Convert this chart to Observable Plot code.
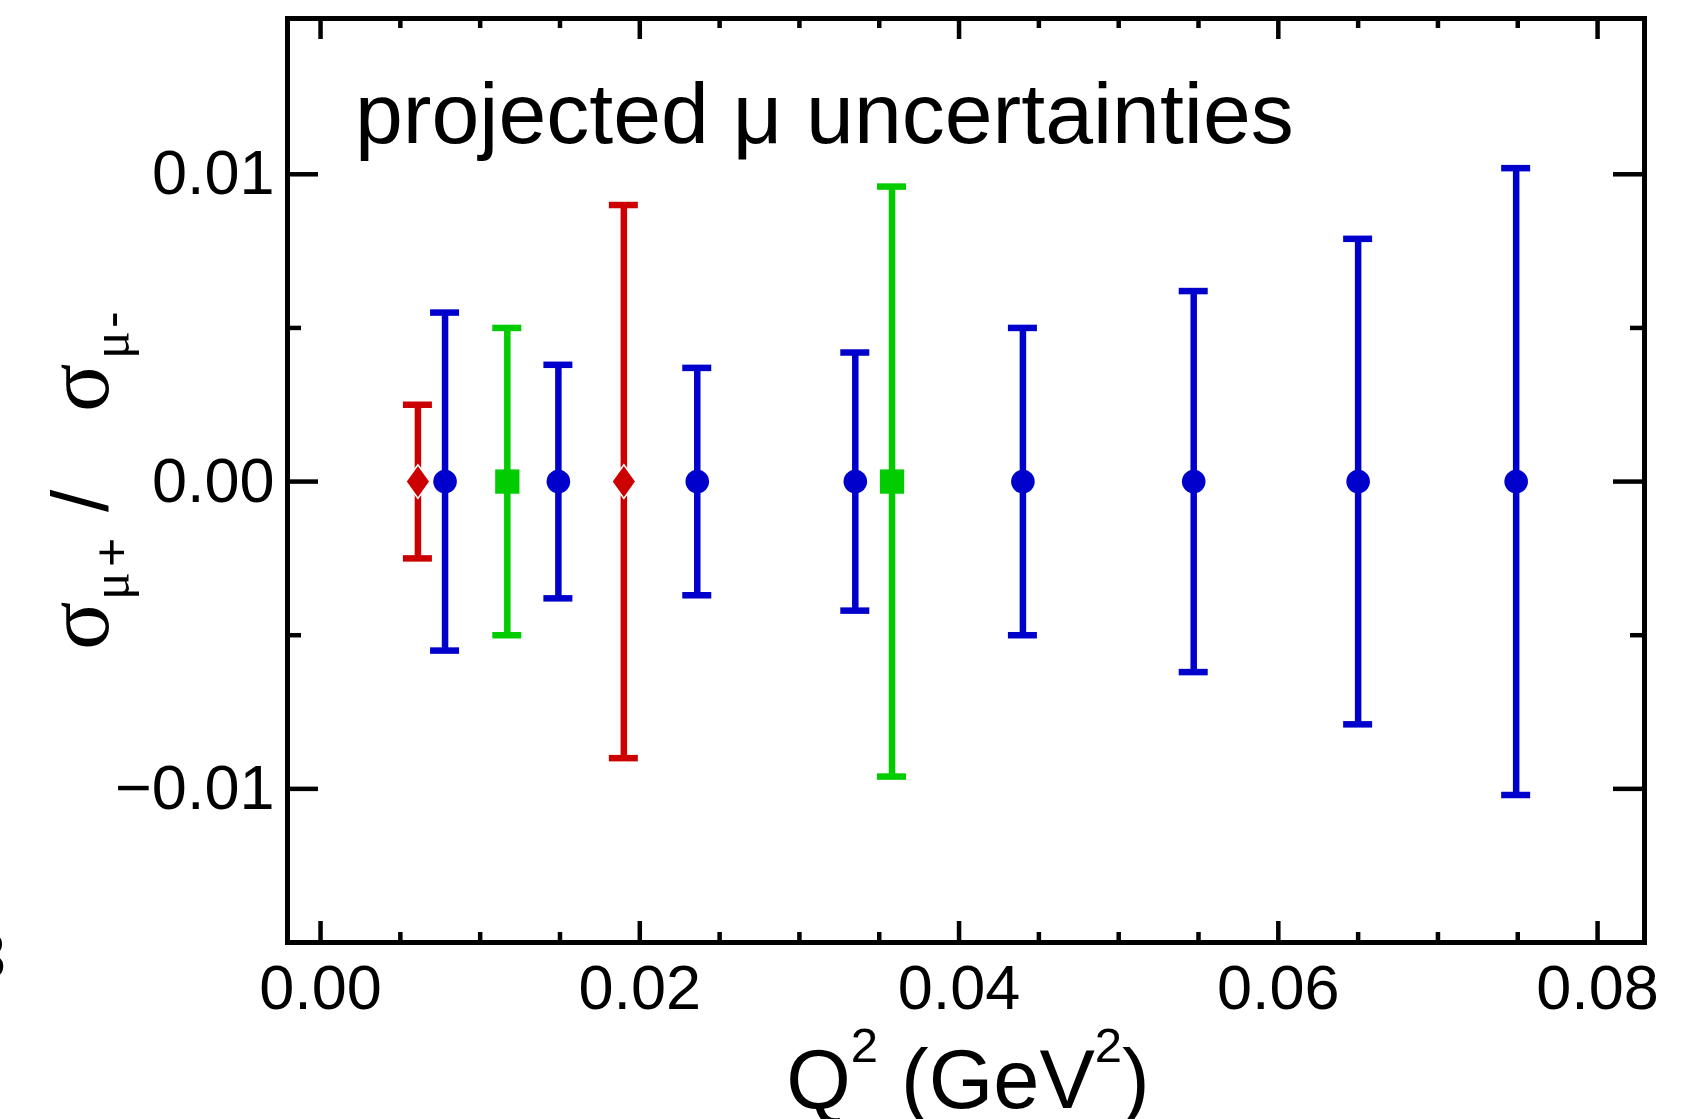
<!DOCTYPE html>
<html>
<head>
<meta charset="utf-8">
<script src="https://cdn.jsdelivr.net/npm/d3@7"></script>
<script src="https://cdn.jsdelivr.net/npm/@observablehq/plot@0.6"></script>
<style>
  html, body { margin: 0; padding: 0; background: #ffffff; }
  #chart svg { display: block; }
</style>
</head>
<body>
<div id="chart"></div>
<script>
// ---- data ----
const blueQ2   = [0.0078, 0.0149, 0.0236, 0.0335, 0.0440, 0.0547, 0.0650, 0.0749];
const blueVal  = [0, 0, 0, 0, 0, 0, 0, 0];
const blueErr  = [0.0055, 0.0038, 0.0037, 0.0042, 0.0050, 0.0062, 0.0079, 0.0102];

const greenQ2  = [0.0117, 0.0358];
const greenVal = [0, 0];
const greenErr = [0.0050, 0.0096];

const redQ2    = [0.0061, 0.0190];
const redVal   = [0, 0];
const redErr   = [0.0025, 0.0090];

const xMajorTicks = [0, 0.02, 0.04, 0.06, 0.08];
const xMinorTicks = [0.005, 0.01, 0.015, 0.025, 0.03, 0.035, 0.045, 0.05, 0.055, 0.065, 0.07, 0.075];
const yMajorTicks = [-0.01, 0, 0.01];
const yMinorTicks = [-0.005, 0.005];

const titleText = "projected \u03bc uncertainties";

// ---- styling ----
const W = 1700, H = 1119;
const mL = 287, mR = 56, mT = 18, mB = 177;
const plotW = W - mL - mR, plotH = H - mT - mB;
const BLUE = "#0000cc", GREEN = "#00cc00", RED = "#cc0000";
const SANS = "'Liberation Sans', Arial, Helvetica, sans-serif";
const SERIF = "'Liberation Serif', 'Times New Roman', serif";

const rows = (xs, vs, es, series) => xs.map((x, i) => ({series, x, y: vs[i], e: es[i]}));
const blue = rows(blueQ2, blueVal, blueErr, "blue");
const green = rows(greenQ2, greenVal, greenErr, "green");
const red = rows(redQ2, redVal, redErr, "red");
const all = [...red, ...blue, ...green];
const colorOf = {blue: BLUE, green: GREEN, red: RED};

const narrowDiamond = {
  draw(ctx, size) {
    const r = Math.sqrt(size / Math.PI);
    ctx.moveTo(0, -1.5 * r);
    ctx.lineTo(1.08 * r, 0);
    ctx.lineTo(0, 1.5 * r);
    ctx.lineTo(-1.08 * r, 0);
    ctx.closePath();
  }
};

const fmt = d3.format(".2f");
const capHalf = 14.5;
const tickW = 4.5;

const chart = Plot.plot({
  width: W, height: H,
  marginLeft: mL, marginRight: mR, marginTop: mT, marginBottom: mB,
  style: {fontFamily: SANS, background: "#ffffff", color: "#000000"},
  x: {domain: [-0.00207, 0.08294]},
  y: {domain: [-0.0150, 0.01507]},
  marks: [
    // inward ticks, bottom & top
    Plot.ruleX(xMajorTicks, {x: d => d, insetTop: plotH - 21, stroke: "#000", strokeWidth: tickW}),
    Plot.ruleX(xMinorTicks, {x: d => d, insetTop: plotH - 10, stroke: "#000", strokeWidth: tickW}),
    Plot.ruleX(xMajorTicks, {x: d => d, insetBottom: plotH - 21, stroke: "#000", strokeWidth: tickW}),
    Plot.ruleX(xMinorTicks, {x: d => d, insetBottom: plotH - 10, stroke: "#000", strokeWidth: tickW}),
    // inward ticks, left & right
    Plot.ruleY(yMajorTicks, {y: d => d, insetRight: plotW - 31, stroke: "#000", strokeWidth: tickW}),
    Plot.ruleY(yMinorTicks, {y: d => d, insetRight: plotW - 14, stroke: "#000", strokeWidth: tickW}),
    Plot.ruleY(yMajorTicks, {y: d => d, insetLeft: plotW - 31, stroke: "#000", strokeWidth: tickW}),
    Plot.ruleY(yMinorTicks, {y: d => d, insetLeft: plotW - 14, stroke: "#000", strokeWidth: tickW}),
    Plot.axisX({ticks: xMajorTicks, tickFormat: fmt, tickSize: 0, tickPadding: 22, fontSize: 63, label: null}),
    Plot.axisY({ticks: yMajorTicks, tickFormat: fmt, tickSize: 0, tickPadding: 13, fontSize: 63, label: null}),
    Plot.frame({stroke: "#000", strokeWidth: 5}),
    // error bars
    Plot.ruleX(all, {x: "x", y1: d => d.y - d.e, y2: d => d.y + d.e, stroke: d => colorOf[d.series], strokeWidth: 6.5}),
    Plot.ruleY(all, {x1: "x", x2: "x", y: d => d.y + d.e, insetLeft: -capHalf, insetRight: -capHalf, stroke: d => colorOf[d.series], strokeWidth: 6.5}),
    Plot.ruleY(all, {x1: "x", x2: "x", y: d => d.y - d.e, insetLeft: -capHalf, insetRight: -capHalf, stroke: d => colorOf[d.series], strokeWidth: 6.5}),
    // markers
    Plot.dot(blue, {x: "x", y: "y", r: 11.8, fill: BLUE, stroke: "none"}),
    Plot.dot(green, {x: "x", y: "y", r: 13.7, symbol: "square", fill: GREEN, stroke: "none"}),
    Plot.dot(red, {x: "x", y: "y", r: 11.2, symbol: narrowDiamond, fill: RED, stroke: "#ffffff", strokeWidth: 1.6})
  ]
});

d3.select("#chart").node().appendChild(chart);
const svg = d3.select(chart);

// title inside the frame
svg.append("text")
  .attr("x", 355).attr("y", 143)
  .attr("text-anchor", "start")
  .attr("font-family", SANS).attr("font-size", 86)
  .attr("fill", "#000")
  .text(titleText);

// x-axis label: Q^2 (GeV^2)
const xl = svg.append("text")
  .attr("x", 968).attr("y", 1108)
  .attr("text-anchor", "middle")
  .attr("font-family", SANS).attr("font-size", 83).attr("fill", "#000");
xl.append("tspan").text("Q");
xl.append("tspan").attr("font-size", 49).attr("dy", -46).text("2");
xl.append("tspan").attr("dy", 46).text(" (GeV");
xl.append("tspan").attr("font-size", 49).attr("dy", -46).text("2");
xl.append("tspan").attr("dy", 46).text(")");

// y-axis label: sigma_{mu+} / sigma_{mu-}, rotated
const yl = svg.append("g").attr("transform", "translate(108,650) rotate(-90)")
  .attr("fill", "#000").attr("text-anchor", "start");
const ylPart = (x, y, fam, size, t) => yl.append("text")
  .attr("x", x).attr("y", y).attr("text-anchor", "start")
  .attr("font-family", fam).attr("font-size", size).text(t);
ylPart(0, 0, SERIF, 90, "\u03c3");
ylPart(50, 20, SERIF, 52, "\u03bc");
ylPart(83, 20, SANS, 50, "+");
ylPart(138, 0, SANS, 80, "/");
ylPart(238, 0, SERIF, 90, "\u03c3");
ylPart(291, 20, SERIF, 52, "\u03bc");
ylPart(322, 20, SANS, 50, "-");

// clipped glyph at the left page edge
svg.append("text")
  .attr("x", 6).attr("y", 978).attr("text-anchor", "end")
  .attr("font-family", SANS).attr("font-size", 64).attr("fill", "#000")
  .text("3");
</script>
</body>
</html>
